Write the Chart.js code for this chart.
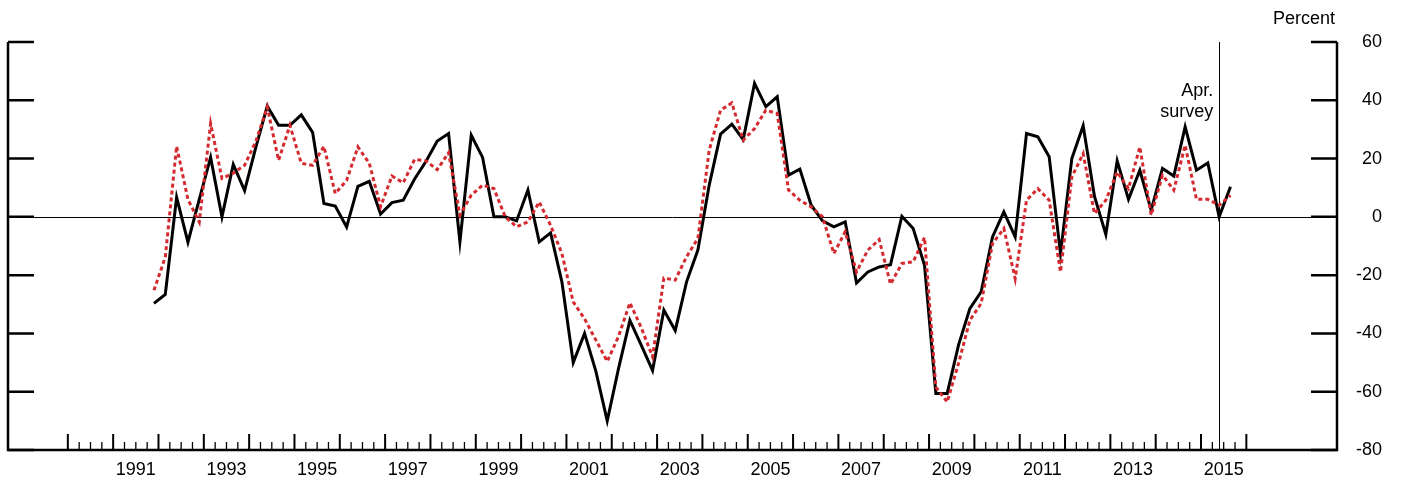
<!DOCTYPE html>
<html>
<head>
<meta charset="utf-8">
<script src="https://cdn.jsdelivr.net/npm/chart.js@4"></script>
<style>
  body { margin: 0; background: #fff; }
  #wrap { width: 1413px; height: 485px; position: relative; }
</style>
</head>
<body>
<div id="wrap"><canvas id="c"></canvas></div>
<script>
// quarterly observations, first point is 1991 Q4
const startYear = 1991.9;
const blackSeries = [
  -29.7, -26.6, 6.7, -8.7, 6, 20.4, 0, 18, 9, 24, 38, 31.4, 31.4, 35, 29, 4.6, 3.7, -3.5, 10.5, 12.2,
  1, 4.9, 5.7, 13, 19, 26, 28.6, -8.6, 28, 20.4, 0, 0, -1.4, 9.2, -8.6, -5.5, -22.3, -50, -40, -53,
  -70, -52, -35.5, -44, -52.7, -32, -39, -22.3, -11.4, 10.9, 28.4, 31.8, 26.5, 45.8, 37.8, 41.2, 14.3, 16.4, 4, -1.4,
  -3.4, -1.7, -22.7, -18.9, -17.2, -16.4, 0.2, -4, -16.6, -60.6, -60.6, -44, -31.5, -25.7, -6.9, 1.7, -6.9, 28.6, 27.5, 20.6,
  -12.6, 20, 31.3, 7, -6, 19.2, 6, 16, 2.3, 16.6, 14, 30.9, 16, 18.5, 0, 10.3
];
const redSeries = [
  -25.2, -13.8, 24.2, 6, -1.8, 32, 13.2, 15, 17.7, 26, 37.7, 19.4, 31.4, 18.4, 17.7, 24.2, 8, 12.5, 24, 18.4,
  3.5, 14, 11.7, 19.7, 19.2, 16.2, 22, 0.6, 7.4, 10.9, 9.7, 0, -3.4, -1.7, 5.1, -2.9, -12.6, -29.2, -35, -42.3,
  -49.6, -41, -29.5, -38, -48, -21, -21.7, -13.7, -7.4, 22.9, 36.6, 39.1, 26.3, 30.3, 36.6, 35.5, 9.2, 5.7, 3.4, 0,
  -12.6, -5.1, -18.9, -11.4, -7.8, -23.1, -16, -15.4, -7.1, -58.4, -63.5, -50.3, -35.5, -29.7, -9.2, -4, -21.2, 5.7, 9.7, 5.7,
  -18.9, 13.7, 21.7, 1.1, 5.7, 15.4, 9.7, 24, 0.6, 14.3, 9.2, 24.6, 6, 6, 4, 7.4
];
const yearLabels = [1991, 1993, 1995, 1997, 1999, 2001, 2003, 2005, 2007, 2009, 2011, 2013, 2015];
const yTicks = [60, 40, 20, 0, -20, -40, -60, -80];
const firstTickYear = 1990;
const lastTickYear = 2016;
const surveyDate = 2015.4;

const toPoints = arr => arr.map((v, i) => ({ x: startYear + i * 0.25, y: v }));

const FONT = '18px "Liberation Sans", Arial, sans-serif';

const framePlugin = {
  id: 'frame',
  beforeDatasetsDraw(chart) {
    const { ctx, chartArea: a, scales: { x, y } } = chart;
    ctx.save();
    ctx.strokeStyle = '#000';
    // zero line and survey line
    ctx.lineWidth = 1;
    const y0 = Math.round(y.getPixelForValue(0)) + 0.5;
    ctx.beginPath(); ctx.moveTo(a.left, y0); ctx.lineTo(a.right, y0); ctx.stroke();
    const xs = Math.round(x.getPixelForValue(surveyDate)) + 0.5;
    ctx.beginPath(); ctx.moveTo(xs, a.top); ctx.lineTo(xs, a.bottom); ctx.stroke();
    ctx.restore();
  },
  afterDatasetsDraw(chart) {
    const { ctx, chartArea: a, scales: { x, y } } = chart;
    ctx.save();
    ctx.strokeStyle = '#000';
    ctx.fillStyle = '#000';
    ctx.lineWidth = 2.5;
    ctx.beginPath();
    ctx.moveTo(a.left, a.top); ctx.lineTo(a.left, a.bottom); ctx.lineTo(a.right, a.bottom); ctx.lineTo(a.right, a.top);
    ctx.stroke();
    // y ticks on both sides
    ctx.font = FONT;
    ctx.textBaseline = 'middle';
    ctx.textAlign = 'right';
    yTicks.forEach(v => {
      const py = y.getPixelForValue(v);
      ctx.beginPath();
      ctx.moveTo(a.left, py); ctx.lineTo(a.left + 26, py);
      ctx.moveTo(a.right, py); ctx.lineTo(a.right - 26, py);
      ctx.stroke();
      ctx.fillText(String(v), a.right + 45, py);
    });
    // x ticks: year starts and quarters
    ctx.lineWidth = 2;
    for (let yr = firstTickYear; yr <= lastTickYear; yr++) {
      const px = x.getPixelForValue(yr);
      ctx.beginPath(); ctx.moveTo(px, a.bottom); ctx.lineTo(px, a.bottom - 16); ctx.stroke();
      if (yr < lastTickYear) {
        ctx.lineWidth = 1.3;
        for (let q = 1; q < 4; q++) {
          const qx = x.getPixelForValue(yr + q / 4);
          ctx.beginPath(); ctx.moveTo(qx, a.bottom); ctx.lineTo(qx, a.bottom - 8); ctx.stroke();
        }
        ctx.lineWidth = 2;
      }
    }
    ctx.textAlign = 'center';
    ctx.textBaseline = 'alphabetic';
    yearLabels.forEach(yr => {
      ctx.fillText(String(yr), x.getPixelForValue(yr + 0.5), a.bottom + 25);
    });
    // annotations
    ctx.textAlign = 'right';
    ctx.fillText('Percent', a.right - 2, 24);
    const xs = x.getPixelForValue(surveyDate);
    ctx.fillText('Apr.', xs - 6, 96);
    ctx.fillText('survey', xs - 6, 117);
    ctx.restore();
  }
};

new Chart(document.getElementById('c'), {
  type: 'line',
  data: {
    datasets: [
      { data: toPoints(redSeries), borderColor: '#d42a2f', borderWidth: 3, borderDash: [4, 3], pointRadius: 0, tension: 0 },
      { data: toPoints(blackSeries), borderColor: '#000', borderWidth: 3, pointRadius: 0, tension: 0 }
    ]
  },
  options: {
    responsive: true,
    maintainAspectRatio: false,
    animation: false,
    layout: { padding: { left: 8, right: 76, top: 42, bottom: 35 } },
    plugins: { legend: { display: false }, tooltip: { enabled: false } },
    scales: {
      x: { type: 'linear', display: false, min: 1988.68, max: 2018 },
      y: { display: false, min: -80, max: 60 }
    }
  },
  plugins: [framePlugin]
});
</script>
</body>
</html>
